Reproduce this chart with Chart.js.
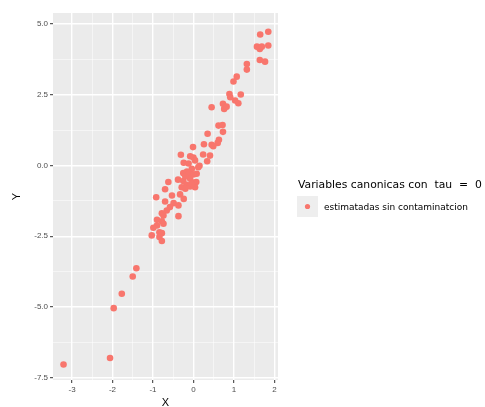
<!DOCTYPE html>
<html>
<head>
<meta charset="utf-8">
<script src="https://cdn.jsdelivr.net/npm/chart.js@4"></script>
<style>
  html, body { margin: 0; padding: 0; background: #fff; }
  #wrap { width: 485px; height: 407px; }
</style>
</head>
<body>
<div id="wrap"><canvas id="chart" width="485" height="407"></canvas></div>
<script>
// values
const xValues = [
  1.85, 1.65, 1.85, 1.57, 1.64, 1.69, 1.64, 1.77, 1.32, 1.32, 1.07, 0.99, 1.17, 0.89, 0.91, 1.03, 1.11, 0.73, 0.76, 0.82, 0.45,
  0.62, 0.72, 0.73, 0.35, 0.63, 0.60, 0.26, 0.45, 0.49, -0.01, 0.24, 0.41, 0.34, -0.31, -0.08, 0.00, -0.24, -0.12, 0.04, 0.15,
  -0.04, -0.25, -0.16, 0.08, -0.38, -0.25, 0.07, -0.62, -0.17, 0.00, -0.12, 0.00, -0.08, -0.20, 0.12,
  -0.70, -0.29, -0.20, -0.08, 0.04, -0.04,
  -0.92, -0.53, -0.33, -0.24, -0.70, -0.49, -0.37, -0.58, -0.66, -0.78, -0.74, -0.37, -0.90, -0.78, -0.74, -0.90, -0.99,
  -0.84, -0.78, -1.03, -0.84, -0.78,
  -1.41, -1.50, -1.77, -1.97, -2.06, -3.21
];
const yValues = [
  4.73, 4.63, 4.24, 4.20, 4.12, 4.20, 3.73, 3.67, 3.59, 3.39, 3.14, 2.97, 2.51, 2.53, 2.41, 2.30, 2.20, 2.18, 2.00, 2.08, 2.06,
  1.41, 1.43, 1.19, 1.12, 0.91, 0.80, 0.75, 0.73, 0.68, 0.65, 0.39, 0.35, 0.15, 0.38, 0.33, 0.28, 0.10, 0.07, 0.18, -0.01,
  -0.12, -0.27, -0.21, -0.29, -0.50, -0.55, -0.58, -0.58, -0.68, -0.60, -0.29, -0.32, -0.47, -0.39, -0.06,
  -0.84, -0.77, -0.82, -0.74, -0.77, -0.65,
  -1.12, -1.06, -1.02, -1.18, -1.27, -1.33, -1.41, -1.47, -1.59, -1.69, -1.77, -1.79, -1.92, -1.97, -2.06, -2.12, -2.20,
  -2.36, -2.39, -2.47, -2.53, -2.67,
  -3.63, -3.92, -4.53, -5.04, -6.80, -7.03
];
const xTicks = [-3, -2, -1, 0, 1, 2];
const yTicks = [-7.5, -5, -2.5, 0, 2.5, 5];
const legendTitle = "Variables canonicas con  tau  =  0";
const seriesName = "estimatadas sin contaminatcion";

const pointColor = "#F8766D";
const FONT = "'Liberation Sans', Arial, sans-serif";
const LEGEND_FONT = "'DejaVu Sans', sans-serif";

const points = xValues.map((x, i) => ({ x: x, y: yValues[i] }));

const isMajor = (v, list) => list.some(t => Math.abs(t - v) < 1e-6);

const panelPlugin = {
  id: "panel",
  beforeDraw(chart) {
    const { ctx, chartArea: a } = chart;
    ctx.save();
    ctx.fillStyle = "#EBEBEB";
    ctx.fillRect(a.left, a.top, a.right - a.left, a.bottom - a.top);
    ctx.restore();
  },
  afterDraw(chart) {
    const ctx = chart.ctx;
    ctx.save();
    // legend title
    ctx.fillStyle = "#000";
    ctx.font = "10.8px " + LEGEND_FONT;
    ctx.textBaseline = "middle";
    ctx.textAlign = "left";
    ctx.fillText(legendTitle, 298, 185);
    // key
    ctx.fillStyle = "#EEEEEE";
    ctx.fillRect(297, 196, 21, 21);
    ctx.fillStyle = pointColor;
    ctx.beginPath();
    ctx.arc(307.5, 206.5, 2.6, 0, Math.PI * 2);
    ctx.fill();
    ctx.fillStyle = "#000";
    ctx.font = "9px " + LEGEND_FONT;
    ctx.fillText(seriesName, 324, 207.5);
    ctx.restore();
  }
};

new Chart(document.getElementById("chart"), {
  type: "scatter",
  data: {
    datasets: [{
      label: seriesName,
      data: points,
      backgroundColor: pointColor,
      borderWidth: 0,
      pointRadius: 3.3
    }]
  },
  options: {
    responsive: false,
    animation: false,
    events: [],
    layout: { padding: { left: 0, top: 13, right: 207, bottom: 0 } },
    plugins: { legend: { display: false }, tooltip: { enabled: false } },
    scales: {
      x: {
        type: "linear",
        min: -3.47,
        max: 2.09,
        afterFit(scale) { scale.height = 27; },
        border: { display: false },
        grid: {
          color: c => isMajor(c.tick.value, xTicks) ? "#FFFFFF" : "rgba(255,255,255,0.75)",
          lineWidth: c => isMajor(c.tick.value, xTicks) ? 1.4 : 0.7,
          tickColor: c => isMajor(c.tick.value, xTicks) ? "#333333" : "rgba(0,0,0,0)",
          tickLength: 3,
          tickWidth: 1
        },
        ticks: {
          stepSize: 0.5,
          includeBounds: false,
          autoSkip: false,
          maxRotation: 0,
          padding: 2,
          color: "#4D4D4D",
          font: { family: FONT, size: 8 },
          callback: v => isMajor(v, xTicks) ? String(Math.round(v)) : ""
        },
        title: {
          display: true,
          text: "X",
          color: "#000",
          font: { family: FONT, size: 11, lineHeight: 0.8 },
          padding: { top: 0, bottom: 0 }
        }
      },
      y: {
        type: "linear",
        min: -7.58,
        max: 5.39,
        afterFit(scale) { scale.width = 53; },
        border: { display: false },
        grid: {
          color: c => isMajor(c.tick.value, yTicks) ? "#FFFFFF" : "rgba(255,255,255,0.75)",
          lineWidth: c => isMajor(c.tick.value, yTicks) ? 1.4 : 0.7,
          tickColor: c => isMajor(c.tick.value, yTicks) ? "#333333" : "rgba(0,0,0,0)",
          tickLength: 3,
          tickWidth: 1
        },
        ticks: {
          stepSize: 1.25,
          includeBounds: false,
          autoSkip: false,
          padding: 2,
          color: "#4D4D4D",
          font: { family: FONT, size: 8 },
          callback: v => isMajor(v, yTicks) ? v.toFixed(1) : ""
        },
        title: {
          display: true,
          text: "Y",
          color: "#000",
          font: { family: FONT, size: 11 },
          padding: { top: 10, bottom: 0 }
        }
      }
    }
  },
  plugins: [panelPlugin]
});
</script>
</body>
</html>
